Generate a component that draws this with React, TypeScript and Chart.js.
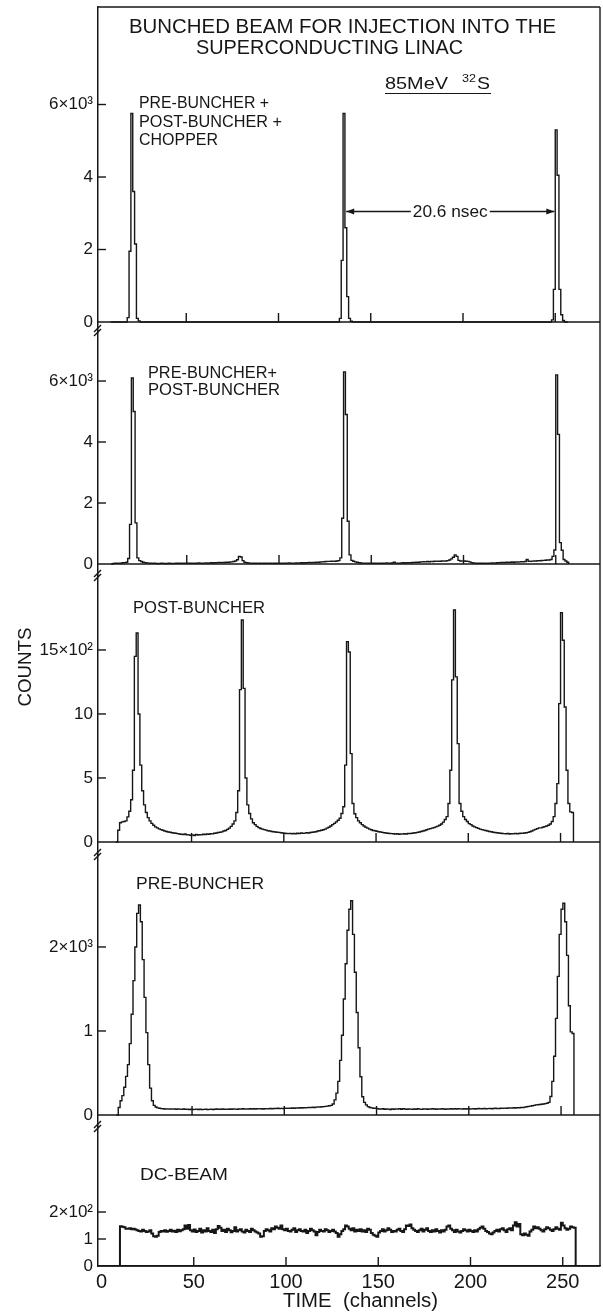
import { useEffect, useRef } from 'react';
import { Chart, registerables } from 'chart.js';

Chart.register(...registerables);

// ---------- data (counts per channel, channel 9 .. 257) ----------
const CHANNELS = Array.from({ length: 249 }, (_, i) => i + 9);

const CHOPPER = [
  0, 0, 0, 0, 0, 0, 0, 0, 0, 120,
  1950, 5750, 3600, 2150, 100, 30, 0, 0, 0, 0,
  0, 0, 0, 0, 0, 0, 0, 0, 0, 0,
  0, 0, 0, 0, 0, 0, 0, 0, 0, 0,
  0, 0, 0, 0, 0, 0, 0, 0, 0, 0,
  0, 0, 0, 0, 0, 0, 0, 0, 0, 0,
  0, 0, 0, 0, 0, 0, 0, 0, 0, 0,
  0, 0, 0, 0, 0, 0, 0, 0, 0, 0,
  0, 0, 0, 0, 0, 0, 0, 0, 0, 0,
  0, 0, 0, 0, 0, 0, 0, 0, 0, 0,
  0, 0, 0, 0, 0, 0, 0, 0, 0, 0,
  0, 0, 0, 0, 0, 0, 0, 0, 0, 0,
  0, 0, 0, 0, 100, 1700, 5750, 2600, 700, 100,
  20, 0, 0, 0, 0, 0, 0, 0, 0, 0,
  0, 0, 0, 0, 0, 0, 0, 0, 0, 0,
  0, 0, 0, 0, 0, 0, 0, 0, 0, 0,
  0, 0, 0, 0, 0, 0, 0, 0, 0, 0,
  0, 0, 0, 0, 0, 0, 0, 0, 0, 0,
  0, 0, 0, 0, 0, 0, 0, 0, 0, 0,
  0, 0, 0, 0, 0, 0, 0, 0, 0, 0,
  0, 0, 0, 0, 0, 0, 0, 0, 0, 0,
  0, 0, 0, 0, 0, 0, 0, 0, 0, 0,
  0, 0, 0, 0, 0, 0, 0, 0, 0, 0,
  0, 0, 0, 0, 0, 0, 0, 0, 0, 60,
  900, 5300, 4050, 900, 200, 40, 0, 0, 0,
];

const PRE_POST = [
  0, 20, 25, 20, 30, 25, 40, 45, 60, 180,
  1300, 6100, 5000, 1350, 200, 110, 80, 60, 45, 35,
  30, 25, 20, 25, 20, 15, 20, 25, 20, 15,
  20, 25, 20, 15, 20, 25, 30, 25, 20, 25,
  20, 25, 30, 25, 20, 25, 30, 35, 30, 25,
  30, 35, 30, 35, 40, 35, 40, 45, 50, 45,
  55, 50, 60, 55, 65, 70, 80, 100, 140, 250,
  230, 110, 60, 45, 35, 30, 25, 30, 25, 20,
  25, 20, 25, 30, 25, 20, 25, 20, 25, 30,
  25, 20, 25, 30, 25, 30, 35, 30, 25, 30,
  35, 30, 35, 40, 35, 40, 45, 50, 45, 55,
  50, 60, 55, 65, 70, 75, 80, 85, 85, 90,
  95, 90, 100, 110, 200, 1500, 6300, 4900, 1400, 300,
  120, 90, 70, 60, 40, 35, 30, 25, 30, 25,
  20, 25, 30, 25, 20, 25, 30, 25, 30, 35,
  30, 25, 35, 60, 30, 25, 30, 35, 40, 35,
  40, 45, 40, 50, 55, 60, 55, 65, 70, 75,
  70, 80, 75, 85, 80, 90, 85, 95, 90, 100,
  95, 100, 110, 130, 170, 220, 300, 250, 120, 100,
  95, 100, 90, 85, 70, 45, 35, 30, 25, 30,
  25, 30, 25, 20, 25, 30, 35, 30, 35, 40,
  45, 50, 55, 50, 60, 55, 60, 65, 60, 70,
  65, 70, 75, 70, 80, 150, 90, 85, 95, 100,
  100, 110, 105, 115, 120, 125, 130, 130, 150, 250,
  460, 6200, 4250, 700, 450, 150, 100, 60, 0,
];

const POST = [
  0, 91, 150, 157, 160, 165, 196, 240, 330, 560,
  1450, 1633, 1000, 600, 400, 290, 230, 190, 165, 145,
  130, 118, 110, 102, 96, 91, 86, 82, 78, 76,
  72, 70, 68, 65, 62, 60, 58, 62, 56, 55,
  52, 55, 50, 58, 54, 57, 55, 60, 58, 62,
  60, 65, 63, 68, 70, 74, 76, 79, 85, 90,
  98, 108, 122, 140, 165, 230, 400, 1190, 1734, 1200,
  500, 290, 222, 180, 150, 135, 122, 112, 105, 100,
  96, 92, 88, 85, 82, 80, 78, 76, 75, 72,
  70, 68, 66, 65, 67, 63, 66, 64, 68, 65,
  70, 67, 69, 72, 70, 74, 76, 78, 80, 85,
  88, 91, 95, 100, 108, 115, 125, 135, 145, 157,
  170, 185, 222, 275, 600, 1565, 1484, 690, 300, 220,
  190, 165, 150, 135, 125, 115, 108, 100, 95, 90,
  88, 84, 80, 78, 75, 72, 70, 68, 66, 65,
  64, 62, 65, 60, 63, 61, 64, 62, 66, 65,
  68, 70, 72, 75, 78, 82, 86, 90, 95, 100,
  104, 108, 112, 118, 124, 130, 140, 155, 175, 198,
  300, 560, 1266, 1812, 1290, 768, 300, 240, 198, 175,
  160, 143, 135, 125, 118, 112, 106, 100, 96, 92,
  90, 86, 82, 80, 76, 74, 72, 70, 68, 66,
  65, 64, 66, 62, 65, 63, 67, 64, 66, 68,
  67, 70, 72, 75, 80, 86, 92, 98, 104, 110,
  110, 115, 120, 125, 130, 140, 160, 198, 300, 456,
  1081, 1792, 1576, 1055, 560, 300, 235, 230, 0,
];

const PRE = [
  0, 90, 170, 230, 330, 460, 600, 850, 1200, 1600,
  2000, 2400, 2500, 2300, 1850, 1400, 980, 600, 320, 170,
  115, 95, 85, 80, 76, 74, 72, 73, 70, 72,
  70, 73, 68, 72, 70, 67, 71, 68, 70, 66,
  68, 65, 67, 70, 66, 68, 64, 67, 69, 65,
  67, 70, 66, 68, 71, 67, 69, 72, 68, 70,
  67, 71, 69, 73, 70, 68, 72, 70, 74, 71,
  73, 70, 75, 72, 74, 71, 76, 73, 75, 72,
  74, 76, 73, 77, 75, 78, 76, 80, 77, 79,
  78, 81, 79, 82, 80, 83, 81, 84, 82, 86,
  84, 87, 85, 88, 90, 88, 92, 90, 94, 96,
  95, 98, 100, 102, 105, 110, 115, 130, 180, 260,
  400, 650, 950, 1380, 1800, 2200, 2450, 2550, 2150, 1700,
  1220, 800, 456, 218, 150, 120, 100, 90, 85, 80,
  80, 76, 72, 70, 74, 68, 72, 70, 66, 71,
  68, 73, 70, 76, 69, 74, 71, 67, 72, 70,
  68, 72, 69, 74, 70, 67, 71, 73, 69, 72,
  70, 74, 71, 68, 73, 70, 75, 72, 69, 73,
  71, 74, 70, 76, 72, 75, 73, 70, 74, 72,
  75, 71, 73, 76, 72, 74, 77, 73, 75, 78,
  74, 76, 79, 75, 77, 80, 76, 78, 81, 79,
  82, 80, 83, 85, 82, 86, 84, 88, 86, 90,
  90, 94, 98, 102, 106, 110, 115, 120, 122, 125,
  128, 130, 135, 140, 150, 220, 400, 700, 1150, 1650,
  2150, 2450, 2520, 2300, 1900, 1300, 990, 970, 0,
];

const DC = [
  0, 147, 145, 144, 138, 138, 140, 136, 138, 135,
  132, 130, 128, 134, 130, 126, 128, 132, 120, 110,
  108, 112, 126, 130, 128, 132, 127, 130, 134, 128,
  131, 126, 134, 129, 132, 136, 150, 138, 152, 132,
  128, 135, 126, 130, 138, 124, 132, 128, 140, 130,
  126, 134, 122, 136, 148, 142, 130, 134, 126, 138,
  132, 125, 130, 144, 128, 132, 136, 128, 124, 134,
  130, 126, 138, 132, 128, 124, 120, 108, 110, 130,
  136, 132, 128, 140, 136, 146, 142, 138, 150, 136,
  132, 138, 130, 128, 134, 140, 126, 132, 136, 130,
  128, 134, 122, 130, 138, 132, 128, 114, 126, 134,
  130, 128, 136, 132, 126, 130, 134, 128, 122, 108,
  118, 130, 136, 150, 146, 138, 132, 140, 128, 134,
  130, 136, 128, 132, 126, 138, 134, 122, 116, 112,
  108, 124, 130, 136, 128, 132, 140, 134, 126, 130,
  128, 134, 138, 130, 126, 136, 150, 148, 154, 140,
  134, 130, 126, 132, 138, 128, 134, 140, 130, 126,
  132, 128, 136, 130, 124, 132, 128, 134, 146, 150,
  138, 132, 126, 134, 128, 124, 130, 136, 132, 128,
  134, 130, 126, 132, 128, 136, 142, 146, 138, 130,
  126, 120, 118, 124, 130, 134, 128, 136, 140, 132,
  126, 136, 140, 132, 150, 162, 146, 156, 118, 114,
  120, 116, 112, 128, 134, 146, 140, 144, 138, 132,
  128, 136, 144, 140, 134, 130, 136, 144, 138, 134,
  160, 150, 140, 134, 138, 146, 144, 142, 0,
];

// ---------- tick values / labels ----------
const X_TICKS = [0, 50, 100, 150, 200, 250];
const X_TICK_LABELS = ['0', '50', '100', '150', '200', '250'];
const P1_TICKS = [0, 2000, 4000, 6000];
const P1_LABELS = ['0', '2', '4', '6×10³'];
const P2_TICKS = [0, 2000, 4000, 6000];
const P2_LABELS = ['0', '2', '4', '6×10³'];
const P3_TICKS = [0, 500, 1000, 1500];
const P3_LABELS = ['0', '5', '10', '15×10²'];
const P4_TICKS = [0, 1000, 2000];
const P4_LABELS = ['0', '1', '2×10³'];
const P5_TICKS = [0, 100, 200];
const P5_LABELS = ['0', '1', '2×10²'];

// annotation: peak spacing arrow in the top panel (channels, counts)
const ARROW_FROM = 136.7;
const ARROW_TO = 249.5;
const ARROW_LEVEL = 3050;

// ---------- layout / style ----------
const INK = '#161616';
const FONT = '"Liberation Sans", Arial, Helvetica, sans-serif';
const W = 603;
const H = 1313;
const AREA = { left: 98, right: 600, top: 7, bottom: 1266 };
const PX_PER_CH = 1.845;

const PANELS = [
  { key: 1, series: CHOPPER, ticks: P1_TICKS, labels: P1_LABELS, min: -248, max: 8690, height: 324, x0: 94 },
  { key: 2, series: PRE_POST, ticks: P2_TICKS, labels: P2_LABELS, min: -393, max: 7640, height: 245, x0: 94.5 },
  { key: 3, series: POST, ticks: P3_TICKS, labels: P3_LABELS, min: -102, max: 2078, height: 279, x0: 99.3 },
  { key: 4, series: PRE, ticks: P4_TICKS, labels: P4_LABELS, min: -143, max: 3095, height: 272, x0: 99.8 },
  { key: 5, series: DC, ticks: P5_TICKS, labels: P5_LABELS, min: 0, max: 515, height: 139, x0: 101.5 },
];

const TEXTS = [
  { t: 'BUNCHED BEAM FOR INJECTION INTO THE', x: 129, y: 33, size: 21, w: 427 },
  { t: 'SUPERCONDUCTING LINAC', x: 196, y: 54, size: 21, w: 267 },
  { t: '85MeV', x: 385, y: 89, size: 17, w: 63 },
  { t: '32', x: 462, y: 82, size: 11.5, w: 14 },
  { t: 'S', x: 477, y: 89, size: 17, w: 13 },
  { t: 'PRE-BUNCHER +', x: 139, y: 108, size: 16, w: 130 },
  { t: 'POST-BUNCHER +', x: 139, y: 127, size: 16, w: 143 },
  { t: 'CHOPPER', x: 139, y: 145, size: 16, w: 79 },
  { t: 'PRE-BUNCHER+', x: 148, y: 378, size: 16, w: 129 },
  { t: 'POST-BUNCHER', x: 148, y: 395, size: 16, w: 132 },
  { t: 'POST-BUNCHER', x: 133, y: 613, size: 16, w: 132 },
  { t: 'PRE-BUNCHER', x: 136, y: 889, size: 16, w: 128 },
  { t: 'DC-BEAM', x: 140, y: 1180, size: 16, w: 88 },
  { t: 'TIME  (channels)', x: 283, y: 1307, size: 20, w: 155 },
];

function fitText(ctx: any, s: string, x: number, y: number, size: number, w: number) {
  ctx.font = `${size}px ${FONT}`;
  const m = ctx.measureText(s).width || 1;
  ctx.save();
  ctx.translate(x, y);
  ctx.scale(w / m, 1);
  ctx.textAlign = 'left';
  ctx.textBaseline = 'alphabetic';
  ctx.fillText(s, 0, 0);
  ctx.restore();
}

const decorPlugin = {
  id: 'figureDecor',
  afterDraw(chart: any) {
    const { ctx, chartArea: a } = chart;
    ctx.save();
    ctx.strokeStyle = INK;
    ctx.fillStyle = INK;
    ctx.lineWidth = 1.4;
    ctx.lineCap = 'butt';
    const seg = (x1: number, y1: number, x2: number, y2: number) => {
      ctx.beginPath();
      ctx.moveTo(x1, y1);
      ctx.lineTo(x2, y2);
      ctx.stroke();
    };
    // frame
    seg(a.left, a.top, a.right, a.top);
    seg(a.right, a.top, a.right, a.bottom);

    PANELS.forEach((p) => {
      const ys = chart.scales['y' + p.key];
      const xs = chart.scales['x' + p.key];
      const y0 = ys.getPixelForValue(0);
      seg(a.left, y0, a.right, y0);
      X_TICKS.forEach((v) => {
        if (v === 0) return;
        const x = xs.getPixelForValue(v);
        seg(x, y0, x, y0 - 9);
      });
      p.ticks.forEach((v) => {
        if (v === 0) return;
        const y = ys.getPixelForValue(v);
        seg(a.left, y, a.left + 8, y);
      });
      if (p.key > 1) {
        const yb = ys.top;
        seg(a.left - 4, yb + 1, a.left + 3, yb - 6);
        seg(a.left - 4, yb + 5, a.left + 3, yb - 2);
      }
    });

    // spacing arrow
    const x1s = chart.scales.x1;
    const y1s = chart.scales.y1;
    const ay = y1s.getPixelForValue(ARROW_LEVEL);
    const xl = x1s.getPixelForValue(ARROW_FROM);
    const xr = x1s.getPixelForValue(ARROW_TO);
    const tw = 75;
    const mid = (xl + xr) / 2;
    seg(xl, ay, mid - tw / 2 - 2, ay);
    seg(mid + tw / 2 + 2, ay, xr, ay);
    ctx.beginPath();
    ctx.moveTo(xl, ay);
    ctx.lineTo(xl + 8, ay - 3);
    ctx.lineTo(xl + 8, ay + 3);
    ctx.closePath();
    ctx.fill();
    ctx.beginPath();
    ctx.moveTo(xr, ay);
    ctx.lineTo(xr - 8, ay - 3);
    ctx.lineTo(xr - 8, ay + 3);
    ctx.closePath();
    ctx.fill();
    fitText(ctx, '20.6 nsec', mid - tw / 2, ay + 6, 16.5, tw);

    // texts
    TEXTS.forEach((s) => fitText(ctx, s.t, s.x, s.y, s.size, s.w));
    // underline of 85 MeV 32S
    ctx.lineWidth = 1.2;
    seg(385, 93.5, 491, 93.5);

    // COUNTS (rotated)
    ctx.save();
    ctx.translate(31, 706.5);
    ctx.rotate(-Math.PI / 2);
    fitText(ctx, 'COUNTS', 0, 0, 19, 79);
    ctx.restore();

    ctx.restore();
  },
};

function buildScales() {
  const scales: any = {};
  PANELS.forEach((p, i) => {
    scales['x' + p.key] = {
      type: 'linear',
      position: 'bottom',
      display: p.key === 5,
      min: (AREA.left - p.x0) / PX_PER_CH,
      max: (AREA.right - p.x0) / PX_PER_CH,
      afterBuildTicks: (s: any) => {
        s.ticks = X_TICKS.map((v) => ({ value: v }));
      },
      afterFit:
        p.key === 5
          ? (s: any) => {
              s.height = H - AREA.bottom;
              s.paddingLeft = 0;
              s.paddingRight = 0;
            }
          : undefined,
      grid: { display: false, drawTicks: false },
      border: { display: p.key === 5, color: INK, width: 1.5 },
      ticks: {
        callback: (_v: any, idx: number) => X_TICK_LABELS[idx],
        font: { family: FONT, size: 20 },
        color: INK,
        padding: 4,
        maxRotation: 0,
        autoSkip: false,
      },
    };
    scales['y' + p.key] = {
      type: 'linear',
      position: 'left',
      stack: 'panels',
      stackWeight: p.height,
      weight: 10 - i,
      min: p.min,
      max: p.max,
      afterBuildTicks: (s: any) => {
        s.ticks = p.ticks.map((v) => ({ value: v }));
      },
      afterFit: (s: any) => {
        s.width = AREA.left;
        s.paddingTop = 0;
        s.paddingBottom = 0;
      },
      grid: { display: false, drawTicks: false },
      border: { display: true, color: INK, width: 1.5 },
      ticks: {
        callback: (_v: any, idx: number) => p.labels[idx],
        font: { family: FONT, size: 17 },
        color: INK,
        padding: 5,
        autoSkip: false,
      },
    };
  });
  return scales;
}

export default function App() {
  const ref = useRef<HTMLCanvasElement | null>(null);
  useEffect(() => {
    if (!ref.current) return;
    const chart = new Chart(ref.current, {
      type: 'line',
      data: {
        datasets: PANELS.map((p) => ({
          data: CHANNELS.map((c, i) => ({ x: c, y: p.series[i] })),
          xAxisID: 'x' + p.key,
          yAxisID: 'y' + p.key,
          borderColor: INK,
          borderWidth: p.key === 5 ? 2 : 1.4,
          pointRadius: 0,
          stepped: 'before',
          fill: false,
          tension: 0,
        })),
      },
      options: {
        responsive: false,
        animation: false,
        devicePixelRatio: 1,
        layout: { autoPadding: false, padding: { left: 0, right: W - AREA.right, top: AREA.top, bottom: 0 } },
        plugins: { legend: { display: false }, tooltip: { enabled: false }, title: { display: false } },
        events: [],
        scales: buildScales(),
      },
      plugins: [decorPlugin],
    } as any);
    return () => chart.destroy();
  }, []);
  return (
    <div style={{ position: 'absolute', left: 0, top: 0, width: W, height: H, background: '#fff' }}>
      <canvas ref={ref} width={W} height={H} style={{ display: 'block', width: W, height: H }} />
    </div>
  );
}
